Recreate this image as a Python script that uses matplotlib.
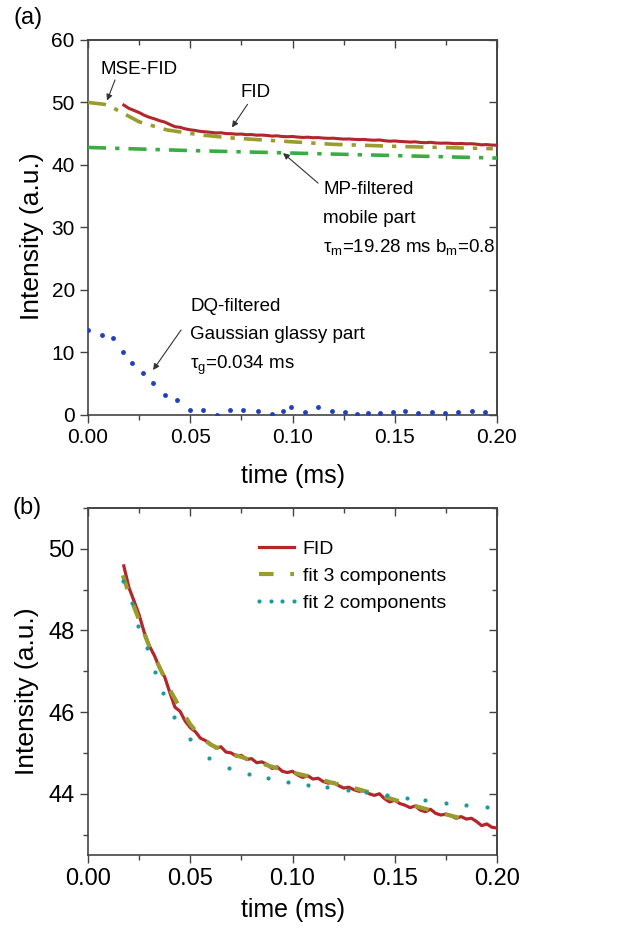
import numpy as np
import matplotlib.pyplot as plt
from matplotlib.ticker import MultipleLocator, FormatStrFormatter, NullFormatter

plt.rcParams['font.family'] = ['Liberation Sans', 'DejaVu Sans']
plt.rcParams['mathtext.fontset'] = 'custom'
plt.rcParams['mathtext.rm'] = 'Liberation Sans'
plt.rcParams['mathtext.it'] = 'Liberation Sans:italic'

# --- FID (measured, same data in both panels)
fid_t = [0.0175, 0.0200, 0.0225, 0.0250, 0.0275, 0.0300, 0.0325, 0.0350, 0.0375, 0.0400,
         0.0425, 0.0450, 0.0475, 0.0500, 0.0525, 0.0550, 0.0575, 0.0600, 0.0625, 0.0650,
         0.0675, 0.0700, 0.0725, 0.0750, 0.0775, 0.0800, 0.0825, 0.0850, 0.0875, 0.0900,
         0.0925, 0.0950, 0.0975, 0.1000, 0.1025, 0.1050, 0.1075, 0.1100, 0.1125, 0.1150,
         0.1175, 0.1200, 0.1225, 0.1250, 0.1275, 0.1300, 0.1325, 0.1350, 0.1375, 0.1400,
         0.1425, 0.1450, 0.1475, 0.1500, 0.1525, 0.1550, 0.1575, 0.1600, 0.1625, 0.1650,
         0.1675, 0.1700, 0.1725, 0.1750, 0.1775, 0.1800, 0.1825, 0.1850, 0.1875, 0.1900,
         0.1925, 0.1950, 0.1975, 0.2000]
fid_y = [49.58, 49.05, 48.72, 48.38, 47.95, 47.62, 47.38, 47.08, 46.86, 46.48,
         46.12, 46.02, 45.78, 45.62, 45.52, 45.36, 45.30, 45.22, 45.12, 45.15,
         45.02, 45.00, 44.92, 44.94, 44.84, 44.86, 44.76, 44.78, 44.72, 44.62,
         44.66, 44.55, 44.52, 44.55, 44.46, 44.40, 44.44, 44.36, 44.38, 44.30,
         44.26, 44.28, 44.20, 44.14, 44.16, 44.10, 44.06, 44.08, 44.00, 43.96,
         44.00, 43.88, 43.80, 43.84, 43.76, 43.72, 43.66, 43.70, 43.60, 43.56,
         43.62, 43.52, 43.48, 43.50, 43.46, 43.40, 43.44, 43.38, 43.40, 43.32,
         43.22, 43.26, 43.18, 43.16]

# --- panel (a) components
mse_t = [0.0, 0.008, 0.013, 0.025, 0.0386, 0.055, 0.071, 0.095, 0.12, 0.153, 0.198]
mse_y = [50.0, 49.7, 49.0, 46.9, 45.6, 44.8, 44.3, 43.8, 43.3, 42.95, 42.6]

mp_t = [0.0, 0.05, 0.1, 0.15, 0.2]
mp_y = [42.8, 42.3, 41.9, 41.5, 41.1]

dq_t = [0.0, 0.0067, 0.0124, 0.0172, 0.0213, 0.027, 0.0318, 0.0375, 0.0433, 0.05,
        0.0564, 0.063, 0.0694, 0.0756, 0.083, 0.0898, 0.0954, 0.0995, 0.106, 0.1126,
        0.1192, 0.1257, 0.1314, 0.137, 0.143, 0.149, 0.155, 0.1615, 0.168, 0.1745,
        0.181, 0.1876, 0.1941]
dq_y = [13.6, 12.8, 12.3, 10.1, 8.3, 6.7, 5.1, 3.2, 2.4, 0.8,
        0.8, 0.0, 0.8, 0.8, 0.6, 0.2, 0.6, 1.3, 0.4, 1.2,
        0.6, 0.5, 0.2, 0.3, 0.3, 0.5, 0.7, 0.3, 0.4, 0.3,
        0.4, 0.6, 0.4]

# --- panel (b) fits
fit3_t = [0.017, 0.02, 0.025, 0.03, 0.035, 0.04, 0.045, 0.05, 0.055, 0.06, 0.07,
          0.08, 0.09, 0.1, 0.11, 0.12, 0.13, 0.14, 0.15, 0.16, 0.17, 0.184]
fit3_y = [49.35, 48.9, 48.25, 47.6, 47.1, 46.55, 46.1, 45.7, 45.4, 45.2, 44.98,
          44.82, 44.66, 44.52, 44.4, 44.26, 44.14, 44.0, 43.85, 43.7, 43.56, 43.38]

fit2_t = [0.0171, 0.0215, 0.0245, 0.0288, 0.0328, 0.0367, 0.042, 0.05, 0.059, 0.069,
          0.0785, 0.088, 0.098, 0.1075, 0.117, 0.127, 0.136, 0.146, 0.156, 0.165,
          0.175, 0.185, 0.195]
fit2_y = [49.22, 48.66, 48.1, 47.56, 46.98, 46.46, 45.88, 45.34, 44.88, 44.63,
          44.49, 44.39, 44.29, 44.22, 44.17, 44.1, 44.05, 43.98, 43.9, 43.85,
          43.78, 43.73, 43.68]

c_red = '#b3262b'
c_olive = '#9a9c2e'
c_green = '#3aac44'
c_blue = '#2040c0'
c_teal = '#1e9a9a'
c_ax = '#444444'


def style(ax, fs, ymaj, ymin=None):
    for s in ax.spines.values():
        s.set_linewidth(1.2)
        s.set_color(c_ax)
    ax.xaxis.set_major_locator(MultipleLocator(0.05))
    ax.xaxis.set_minor_locator(MultipleLocator(0.025))
    ax.yaxis.set_major_locator(MultipleLocator(ymaj))
    if ymin:
        ax.yaxis.set_minor_locator(MultipleLocator(ymin))
    ax.xaxis.set_major_formatter(FormatStrFormatter('%.2f'))
    ax.yaxis.set_major_formatter(FormatStrFormatter('%d'))
    ax.tick_params(which='both', direction='out', labelsize=fs, color=c_ax, width=1.0)
    ax.tick_params(which='major', length=6)
    ax.tick_params(which='minor', length=3.5)
    # mirrored inward ticks on top/right
    top = ax.secondary_xaxis('top')
    top.xaxis.set_major_locator(MultipleLocator(0.05))
    top.xaxis.set_minor_locator(MultipleLocator(0.025))
    top.xaxis.set_major_formatter(NullFormatter())
    top.tick_params(which='both', direction='in', color=c_ax, width=1.0)
    top.tick_params(which='major', length=6)
    top.tick_params(which='minor', length=3.5)
    top.spines['top'].set_linewidth(1.2)
    top.spines['top'].set_color(c_ax)
    right = ax.secondary_yaxis('right')
    right.yaxis.set_major_locator(MultipleLocator(ymaj))
    if ymin:
        right.yaxis.set_minor_locator(MultipleLocator(ymin))
    right.yaxis.set_major_formatter(NullFormatter())
    right.tick_params(which='both', direction='in', color=c_ax, width=1.0)
    right.tick_params(which='major', length=6)
    right.tick_params(which='minor', length=3.5)
    right.spines['right'].set_linewidth(1.2)
    right.spines['right'].set_color(c_ax)


fig = plt.figure(figsize=(6.43, 9.33), dpi=100)
ax1 = fig.add_axes([0.1369, 0.5552, 0.636, 0.402])
ax2 = fig.add_axes([0.1369, 0.0836, 0.636, 0.372])

# ---------------- panel (a)
ax1.plot(mse_t, mse_y, color=c_olive, lw=2.6, dashes=(5, 2.5, 1.2, 2.5), zorder=3)
ax1.plot(mp_t, mp_y, color=c_green, lw=2.6, dashes=(5, 2.5, 1.2, 2.5), zorder=3)
ax1.plot(fid_t, fid_y, color=c_red, lw=2.2, zorder=4)
ax1.plot(dq_t, dq_y, ls='none', marker='o', ms=3.5, mec='none', mfc=c_blue, zorder=3)

ax1.set_xlim(0, 0.2)
ax1.set_ylim(0, 60)
style(ax1, 15, 10)
ax1.set_xlabel('time (ms)', fontsize=18)
ax1.xaxis.set_label_coords(0.5, -0.13)
ax1.set_ylabel('Intensity (a.u.)', fontsize=19)
ax1.yaxis.set_label_coords(-0.108, 0.477)

arr = dict(arrowstyle='-|>', color='#333333', lw=0.8, shrinkA=0, shrinkB=0,
           mutation_scale=9)
ann_fs = 13.5
ax1.annotate('', xy=(0.0093, 50.3), xytext=(0.0132, 53.6), arrowprops=arr)
ax1.text(0.006, 55.2, 'MSE-FID', fontsize=ann_fs, ha='left', va='center')
ax1.annotate('', xy=(0.0704, 46.0), xytext=(0.078, 49.7), arrowprops=arr)
ax1.text(0.0817, 51.6, 'FID', fontsize=ann_fs, ha='center', va='center')
ax1.annotate('', xy=(0.0954, 41.9), xytext=(0.1125, 37.1), arrowprops=arr)
ax1.text(0.115, 36.0, 'MP-filtered', fontsize=ann_fs, ha='left', va='center')
ax1.text(0.115, 31.5, 'mobile part', fontsize=ann_fs, ha='left', va='center')
ax1.text(0.115, 26.9, r'τ$_\mathrm{m}$=19.28 ms b$_\mathrm{m}$=0.8', fontsize=ann_fs,
         ha='left', va='center')
ax1.annotate('', xy=(0.0318, 7.2), xytext=(0.0455, 13.6), arrowprops=arr)
ax1.text(0.0499, 17.3, 'DQ-filtered', fontsize=ann_fs, ha='left', va='center')
ax1.text(0.0499, 12.8, 'Gaussian glassy part', fontsize=ann_fs, ha='left', va='center')
ax1.text(0.0499, 8.0, r'τ$_\mathrm{g}$=0.034 ms', fontsize=ann_fs, ha='left', va='center')

# ---------------- panel (b)
ax2.plot(fid_t, fid_y, color=c_red, lw=2.3, zorder=3, label='FID')
ax2.plot(fit3_t, fit3_y, color=c_olive, lw=3.0, dashes=(3.5, 4), zorder=4,
         label='fit 3 components')
ax2.plot(fit2_t, fit2_y, ls='none', marker='o', ms=3.0, mec='none', mfc=c_teal,
         zorder=5, label='fit 2 components')
ax2.set_xlim(0, 0.2)
ax2.set_ylim(42.5, 51)
style(ax2, 17, 2, 1)
ax2.set_xlabel('time (ms)', fontsize=18)
ax2.xaxis.set_label_coords(0.5, -0.125)
ax2.set_ylabel('Intensity (a.u.)', fontsize=19)
ax2.yaxis.set_label_coords(-0.12, 0.473)
ax2.legend(loc='upper left', bbox_to_anchor=(0.385, 0.93), frameon=False, fontsize=14,
           handlelength=2.4, handletextpad=0.15, labelspacing=0.5, numpoints=4,
           borderaxespad=0)

fig.text(0.0435, 0.981, '(a)', fontsize=17, ha='center', va='center')
fig.text(0.042, 0.4555, '(b)', fontsize=17, ha='center', va='center')

fig.savefig('out.png', dpi=100)
